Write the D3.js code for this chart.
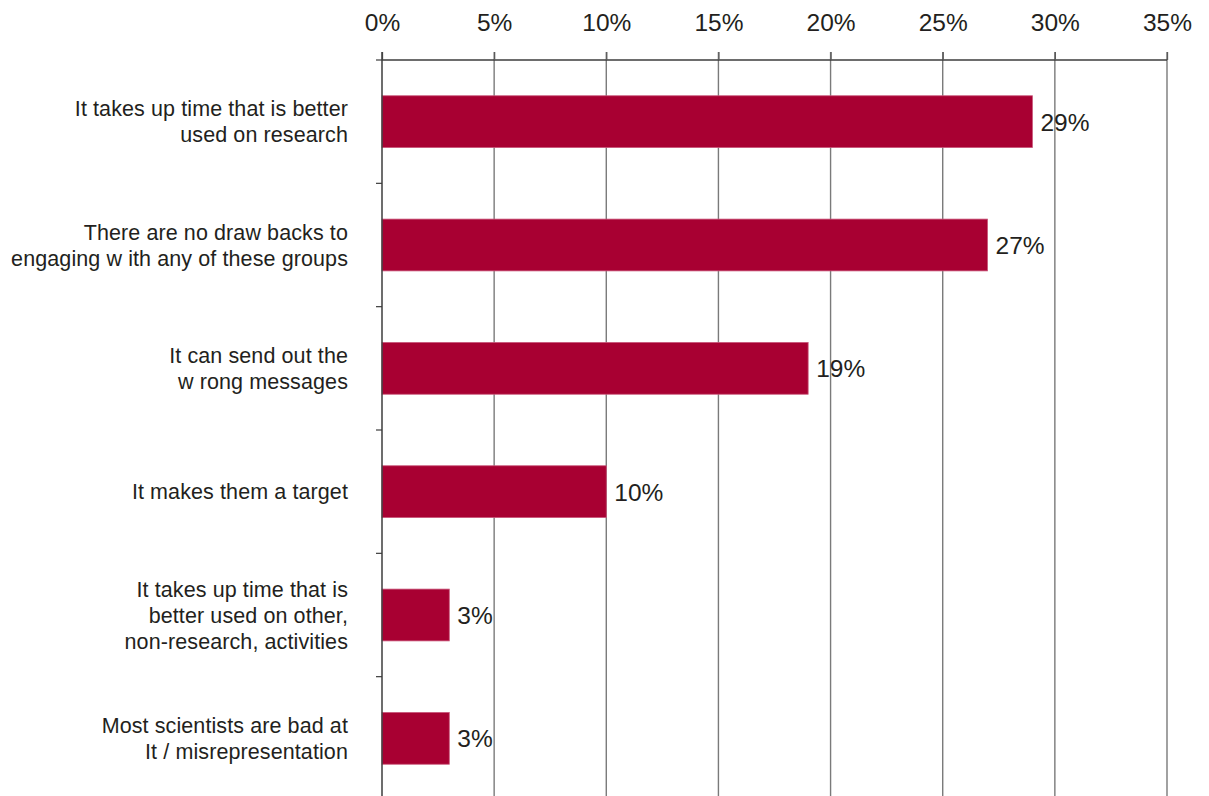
<!DOCTYPE html>
<html>
<head>
<meta charset="utf-8">
<script src="https://cdn.jsdelivr.net/npm/d3@7"></script>
<style>
  html, body { margin: 0; padding: 0; background: #fff; }
  svg { display: block; }
  text { font-family: "Liberation Sans", Arial, sans-serif; fill: #231f20; }
</style>
</head>
<body>
<svg id="chart" width="1209" height="796"></svg>
<script>
// Reasons given (each entry is a list of label lines), top to bottom
const categories = [
  ["It takes up time that is better", "used on research"],
  ["There are no draw backs to", "engaging w ith any of these groups"],
  ["It can send out the", "w rong messages"],
  ["It makes them a target"],
  ["It takes up time that is", "better used on other,", "non-research, activities"],
  ["Most scientists are bad at", "It / misrepresentation"]
];
// Share of respondents, in percent
const values = [29, 27, 19, 10, 3, 3];
// Top axis ticks, in percent
const tickValues = [0, 5, 10, 15, 20, 25, 30, 35];

const svg = d3.select("#chart");
const plotLeft = 382, plotRight = 1167, plotTop = 60, plotBottom = 800;

const x = d3.scaleLinear().domain([0, 35]).range([plotLeft, plotRight]);
const y = d3.scaleBand()
  .domain(d3.range(categories.length))
  .range([plotTop, plotBottom])
  .paddingInner(0.58)
  .paddingOuter(0.29);
const step = y.step();

// vertical gridlines (with short tick stubs above the top axis)
svg.append("g")
  .selectAll("line")
  .data(tickValues.filter(d => d > 0))
  .join("line")
  .attr("x1", d => x(d)).attr("x2", d => x(d))
  .attr("y1", plotTop - 8).attr("y2", 796)
  .attr("stroke", "#7a7a7a")
  .attr("stroke-width", 1.4);

// top axis with percentage labels
const xAxis = d3.axisTop(x)
  .tickValues(tickValues)
  .tickFormat(d => d + "%")
  .tickSize(8)
  .tickPadding(21);
const gx = svg.append("g").attr("transform", `translate(0,${plotTop})`).call(xAxis);
gx.select(".domain").attr("stroke", "#3c3c3c").attr("stroke-width", 1.5)
  .attr("d", `M${plotLeft},0H${plotRight}`);
gx.selectAll(".tick line").attr("stroke", "#5a5a5a").attr("stroke-width", 1.3);
gx.selectAll(".tick text")
  .attr("font-size", 24.5)
  .attr("font-family", "Liberation Sans, Arial, sans-serif")
  .attr("fill", "#231f20");

// bars
svg.append("g")
  .selectAll("rect")
  .data(values)
  .join("rect")
  .attr("x", x(0))
  .attr("y", (d, i) => y(i))
  .attr("width", d => x(d) - x(0))
  .attr("height", y.bandwidth())
  .attr("fill", "#a80032")
  .attr("stroke", "#c9577a")
  .attr("stroke-width", 0.8);

// left axis line and category separators
svg.append("line")
  .attr("x1", plotLeft).attr("x2", plotLeft)
  .attr("y1", plotTop - 8).attr("y2", 796)
  .attr("stroke", "#3c3c3c").attr("stroke-width", 1.5);
svg.append("g")
  .selectAll("line")
  .data(d3.range(categories.length))
  .join("line")
  .attr("x1", plotLeft - 6).attr("x2", plotLeft)
  .attr("y1", i => plotTop + i * step).attr("y2", i => plotTop + i * step)
  .attr("stroke", "#3c3c3c").attr("stroke-width", 1.2);

// category labels, right aligned, vertically centred on the bar
const lineH = 26;
const labels = svg.append("g")
  .selectAll("text")
  .data(categories)
  .join("text")
  .attr("text-anchor", "end")
  .attr("font-size", 21.5)
  .attr("letter-spacing", 0.1);
labels.each(function (lines, i) {
  const cy = y(i) + y.bandwidth() / 2;
  d3.select(this).selectAll("tspan")
    .data(lines)
    .join("tspan")
    .attr("x", 348)
    .attr("y", (l, j) => cy + (j - (lines.length - 1) / 2) * lineH + 7.5)
    .text(l => l);
});

// value labels at bar ends
svg.append("g")
  .selectAll("text")
  .data(values)
  .join("text")
  .attr("x", d => x(d) + 8)
  .attr("y", (d, i) => y(i) + y.bandwidth() / 2 + 9)
  .attr("font-size", 24.5)
  .text(d => d + "%");
</script>
</body>
</html>
